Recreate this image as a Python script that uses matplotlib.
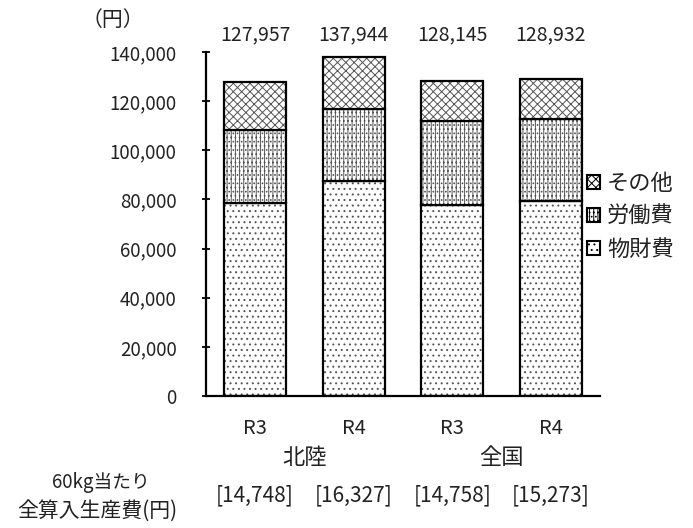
import numpy as np
import matplotlib
matplotlib.use("Agg")
import matplotlib.pyplot as plt
from matplotlib.patches import Patch

plt.rcParams['font.family'] = ['Noto Sans CJK JP', 'DejaVu Sans']
plt.rcParams['hatch.linewidth'] = 0.7

# ============================
#  データ
# ============================
years = ["R3", "R4", "R3", "R4"]
regions = ["北陸", "全国"]
zaihi = [78500, 87500, 77700, 79400]      # 物財費
roudou = [29800, 29300, 34200, 33200]     # 労働費
sonota = [19657, 21144, 16245, 16332]     # その他
totals = ["127,957", "137,944", "128,145", "128,932"]
per60kg = ["[14,748]", "[16,327]", "[14,758]", "[15,273]"]

TXT = "#222222"
HATCH_COL = "#555555"

fig = plt.figure(figsize=(6.93, 5.28), dpi=100)
ax = fig.add_axes([0.297, 0.25, 0.569, 0.6515])

x = np.arange(len(years))
w = 0.63
b1 = np.array(zaihi)
b2 = b1 + np.array(roudou)

series = [
    (zaihi, 0, "...", "物財費"),
    (roudou, b1, "||||....", "労働費"),
    (sonota, b2, "xxxx", "その他"),
]
for vals, bottom, hatch, lab in series:
    ax.bar(x, vals, w, bottom=bottom, color="white", edgecolor=HATCH_COL,
           hatch=hatch, linewidth=0)
    ax.bar(x, vals, w, bottom=bottom, color="none", edgecolor="black",
           linewidth=1.6)

ax.set_xlim(-0.5, 3.5)
ax.set_ylim(0, 140000)
ax.set_yticks(np.arange(0, 140001, 20000))
ax.set_yticklabels([f"{v:,}" for v in range(0, 140001, 20000)])
ax.set_xticks(x)
ax.set_xticklabels(years)
ax.tick_params(axis="y", direction="inout", length=6, width=1.3, pad=18,
               labelsize=13.5, labelcolor=TXT)
ax.tick_params(axis="x", length=0, pad=16, labelsize=14.5, labelcolor=TXT)
for s in ["top", "right"]:
    ax.spines[s].set_visible(False)
ax.spines["left"].set_linewidth(1.6)
ax.spines["bottom"].set_linewidth(1.6)

# 合計値ラベル
for xi, t in zip(x, totals):
    ax.text(xi, 1.02, t, transform=ax.get_xaxis_transform(),
            ha="center", va="bottom", fontsize=14, color=TXT)

# 地域ラベル
ax.text(0.5, -0.18, regions[0], transform=ax.get_xaxis_transform(),
        ha="center", va="center", fontsize=16, color=TXT)
ax.text(2.5, -0.18, regions[1], transform=ax.get_xaxis_transform(),
        ha="center", va="center", fontsize=16, color=TXT)

# 60kg当たり
for xi, t in zip(x, per60kg):
    ax.text(xi, -0.29, t, transform=ax.get_xaxis_transform(),
            ha="center", va="center", fontsize=15, color=TXT)
fig.text(0.145, 0.087, "60kg当たり", ha="center", va="center",
         fontsize=13.5, color=TXT)
fig.text(0.14, 0.032, "全算入生産費(円)", ha="center", va="center",
         fontsize=15, color=TXT)

fig.text(0.163, 0.963, "（円）", ha="center", va="center", fontsize=15, color=TXT)

handles = [Patch(facecolor="white", edgecolor="black", hatch=h, linewidth=1.5, label=l)
           for _, _, h, l in series[::-1]]
fig.legend(handles=handles, loc="center left", bbox_to_anchor=(0.818, 0.59),
           frameon=False, fontsize=16, handlelength=0.6, handleheight=0.6,
           handletextpad=0.3, labelspacing=0.45, labelcolor=TXT)

fig.savefig("out.png", dpi=100)
